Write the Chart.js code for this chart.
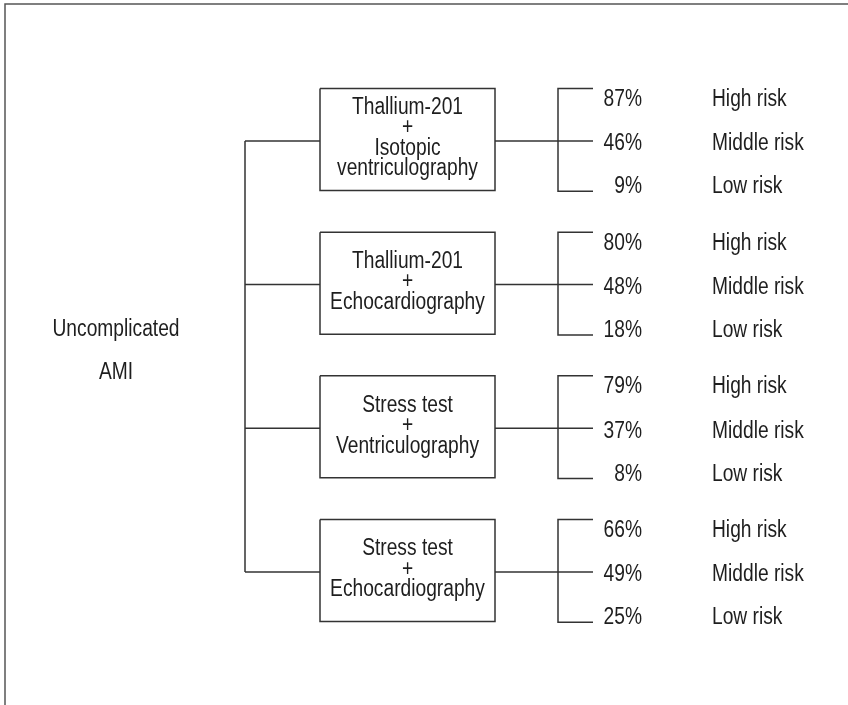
<!DOCTYPE html>
<html>
<head>
<meta charset="utf-8">
<script src="https://cdn.jsdelivr.net/npm/chart.js@4/dist/chart.umd.min.js"></script>
<style>
  html, body { margin: 0; padding: 0; background: #fff; }
  #wrap { position: relative; width: 848px; height: 705px; }
</style>
</head>
<body>
<div id="wrap"><canvas id="tree" width="848" height="705"></canvas></div>
<script>
// diagram content
const rootLabel = ['Uncomplicated', 'AMI'];
const tests = [
    ['Thallium-201', '+', 'Isotopic', 'ventriculography'],
    ['Thallium-201', '+', 'Echocardiography'],
    ['Stress test', '+', 'Ventriculography'],
    ['Stress test', '+', 'Echocardiography']
];
const riskLevels = ['High risk', 'Middle risk', 'Low risk'];
const riskValues = [
    [87, 46, 9],
    [80, 48, 18],
    [79, 37, 8],
    [66, 49, 25]
];

// layout (x in scale units, y offsets in row units)
const COL = { root: 116, trunk: 245, boxL: 320, boxR: 495, bracket: 558, tick: 593, pct: 642, risk: 712 };
const BOX_TOP = -0.365, BOX_BOT = 0.345;
const RISK_OFF = [-0.30, 0.007, 0.306];
const FONT = '23px "Liberation Sans", Arial, sans-serif';
const SX = 0.835; // condensed look
const INK = '#333';

function seg(points) {
    return {
        data: points,
        showLine: true,
        borderColor: INK,
        borderWidth: 1.5,
        pointRadius: 0,
        tension: 0,
        fill: false
    };
}

const datasets = [];
datasets.push(seg([{ x: COL.trunk, y: 0 }, { x: COL.trunk, y: tests.length - 1 }]));
tests.forEach((t, i) => {
    datasets.push(seg([{ x: COL.trunk, y: i }, { x: COL.boxL, y: i }]));
    datasets.push(seg([
        { x: COL.boxL, y: i + BOX_TOP }, { x: COL.boxR, y: i + BOX_TOP },
        { x: COL.boxR, y: i + BOX_BOT }, { x: COL.boxL, y: i + BOX_BOT },
        { x: COL.boxL, y: i + BOX_TOP }
    ]));
    datasets.push(seg([{ x: COL.boxR, y: i }, { x: COL.tick, y: i }]));
    datasets.push(seg([
        { x: COL.tick, y: i + BOX_TOP }, { x: COL.bracket, y: i + BOX_TOP },
        { x: COL.bracket, y: i + BOX_BOT + 0.005 }, { x: COL.tick, y: i + BOX_BOT + 0.005 }
    ]));
});

function text(c, s, x, y, align) {
    c.save();
    c.translate(x, y);
    c.scale(SX, 1);
    c.textAlign = align;
    c.fillText(s, 0, 0);
    c.restore();
}

const labelPlugin = {
    id: 'labels',
    beforeDraw(chart) {
        const c = chart.ctx;
        c.save();
        c.fillStyle = '#fff';
        c.fillRect(0, 0, chart.width, chart.height);
        // frame
        c.strokeStyle = '#555';
        c.lineWidth = 1.5;
        c.beginPath();
        c.moveTo(5, chart.height);
        c.lineTo(5, 4);
        c.lineTo(chart.width, 4);
        c.stroke();
        c.restore();
    },
    afterDatasetsDraw(chart) {
        const c = chart.ctx;
        const xs = chart.scales.x, ys = chart.scales.y;
        const capHalf = 8.3;
        c.save();
        c.font = FONT;
        c.fillStyle = '#1e1e1e';
        c.textBaseline = 'alphabetic';

        rootLabel.forEach((s, k) => {
            const y = ys.getPixelForValue(1.5 - 0.052 + (k - 0.5) * 0.303);
            text(c, s, xs.getPixelForValue(COL.root), y + capHalf, 'center');
        });

        tests.forEach((lines, i) => {
            const cx = (xs.getPixelForValue(COL.boxL) + xs.getPixelForValue(COL.boxR)) / 2;
            const cy = ys.getPixelForValue(i) - 4.5;
            lines.forEach((s, k) => {
                text(c, s, cx, cy + (k - (lines.length - 1) / 2) * 20.5 + capHalf, 'center');
            });
            riskValues[i].forEach((v, j) => {
                const y = ys.getPixelForValue(i + RISK_OFF[j]) + capHalf;
                text(c, v + '%', xs.getPixelForValue(COL.pct), y, 'right');
                text(c, riskLevels[j], xs.getPixelForValue(COL.risk), y, 'left');
            });
        });
        c.restore();
    }
};

new Chart(document.getElementById('tree'), {
    type: 'scatter',
    data: { datasets },
    options: {
        responsive: false,
        animation: false,
        events: [],
        layout: { padding: 0 },
        plugins: { legend: { display: false }, tooltip: { enabled: false } },
        scales: {
            x: { type: 'linear', min: 0, max: 848, display: false },
            y: { type: 'linear', min: -0.981, max: 3.926, reverse: true, display: false }
        }
    },
    plugins: [labelPlugin]
});
</script>
</body>
</html>
